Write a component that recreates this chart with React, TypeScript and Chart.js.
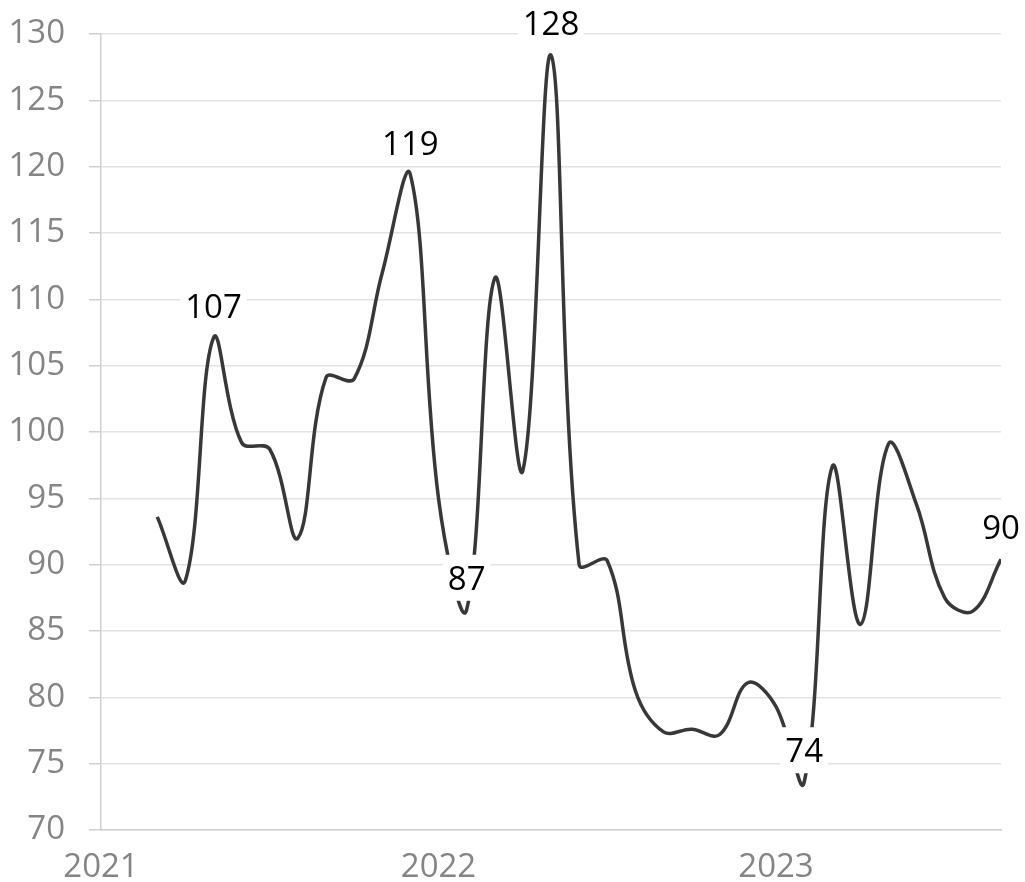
import React, { useEffect, useRef } from 'react';
import { Chart, registerables } from 'chart.js';

Chart.register(...registerables);

// Monthly observations, March 2021 – September 2023
const months = [
  '2021-03', '2021-04', '2021-05', '2021-06', '2021-07', '2021-08', '2021-09', '2021-10', '2021-11', '2021-12',
  '2022-01', '2022-02', '2022-03', '2022-04', '2022-05', '2022-06', '2022-07', '2022-08', '2022-09', '2022-10', '2022-11', '2022-12',
  '2023-01', '2023-02', '2023-03', '2023-04', '2023-05', '2023-06', '2023-07', '2023-08', '2023-09',
];
const values = [
  93.6, 88.8, 107.1, 99.2, 98.7, 92.0, 104.1, 104.0, 112.0, 119.4,
  95.0, 86.6, 111.6, 97.1, 128.4, 90.0, 90.3, 80.5, 77.4, 77.6, 77.2, 81.1,
  79.3, 73.6, 97.4, 85.5, 99.1, 94.5, 87.5, 86.5, 90.4,
];
// indices of points carrying a value label
const labeledPoints = [2, 9, 11, 14, 23, 30];
// x-axis year ticks (months since Jan 2021) and their labels
const yearTickValues = [0, 12, 24];
const yearTickLabels = ['2021', '2022', '2023'];
const yTicks = [70, 75, 80, 85, 90, 95, 100, 105, 110, 115, 120, 125, 130];

const FONT = '"Open Sans", "Noto Sans", sans-serif';

const monthIndex = (s: string) => {
  const [y, m] = s.split('-').map(Number);
  return (y - 2021) * 12 + (m - 1);
};

const valueLabelPlugin = {
  id: 'valueLabels',
  afterDatasetsDraw(chart: any) {
    const ctx = chart.ctx;
    const meta = chart.getDatasetMeta(0);
    ctx.save();
    ctx.font = `33px ${FONT}`;
    ctx.textAlign = 'center';
    ctx.textBaseline = 'alphabetic';
    labeledPoints.forEach((i) => {
      const el = meta.data[i];
      if (!el) return;
      const text = String(Math.round(values[i]));
      const w = ctx.measureText(text).width;
      const cy = el.y - 32;
      ctx.fillStyle = '#ffffff';
      ctx.fillRect(el.x - w / 2 - 5, cy - 23, w + 10, 46);
      ctx.fillStyle = '#000000';
      ctx.fillText(text, el.x, cy + 12);
    });
    ctx.restore();
  },
};

export default function App() {
  const canvasRef = useRef<HTMLCanvasElement | null>(null);

  useEffect(() => {
    if (!canvasRef.current) return;
    const data = months.map((m, i) => ({ x: monthIndex(m), y: values[i] }));
    const chart = new Chart(canvasRef.current, {
      type: 'line',
      data: {
        datasets: [
          {
            data,
            borderColor: '#383838',
            borderWidth: 3.5,
            pointRadius: 0,
            pointHoverRadius: 0,
            tension: 0.38,
            fill: false,
          },
        ],
      },
      options: {
        responsive: false,
        animation: false,
        events: [],
        layout: { padding: { top: 34, right: 24, left: 0, bottom: 0 } },
        plugins: {
          legend: { display: false },
          tooltip: { enabled: false },
          title: { display: false },
        },
        scales: {
          x: {
            type: 'linear',
            min: 0,
            max: 32,
            afterBuildTicks: (scale: any) => {
              scale.ticks = yearTickValues.map((v) => ({ value: v }));
            },
            afterFit: (scale: any) => {
              scale.height = 52;
              scale.paddingLeft = 0;
              scale.paddingRight = 0;
            },
            grid: { display: false, drawTicks: false },
            border: { display: true, color: '#d0d0d0', width: 1.5 },
            ticks: {
              padding: 18,
              maxRotation: 0,
              autoSkip: false,
              color: '#858585',
              font: { family: FONT, size: 33 },
              callback: (v: any) => {
                const idx = yearTickValues.indexOf(Number(v));
                return idx >= 0 ? yearTickLabels[idx] : '';
              },
            },
          },
          y: {
            type: 'linear',
            min: 70,
            max: 130,
            afterBuildTicks: (scale: any) => {
              scale.ticks = yTicks.map((v) => ({ value: v }));
            },
            afterFit: (scale: any) => {
              scale.width = 101;
              scale.paddingTop = 0;
              scale.paddingBottom = 0;
            },
            grid: {
              color: '#e3e3e3',
              lineWidth: 1.5,
              tickLength: 12,
              tickColor: '#d0d0d0',
            },
            border: { display: true, color: '#d0d0d0', width: 1.5 },
            ticks: {
              padding: 24,
              color: '#858585',
              font: { family: FONT, size: 33 },
            },
          },
        },
      },
      plugins: [valueLabelPlugin],
    });
    return () => chart.destroy();
  }, []);

  return (
    <div style={{ position: 'fixed', left: 0, top: 0, width: 1025, height: 882, background: '#fff' }}>
      <canvas ref={canvasRef} width={1025} height={882} style={{ display: 'block' }} />
    </div>
  );
}
